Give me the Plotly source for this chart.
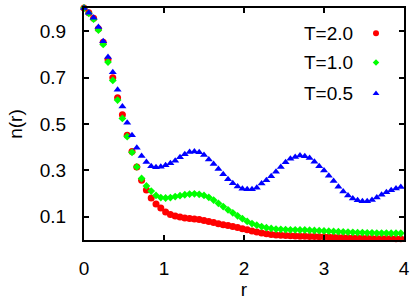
import plotly.graph_objects as go

r = [0.00, 0.06, 0.12, 0.18, 0.24, 0.30, 0.36, 0.42, 0.48, 0.54,
     0.60, 0.66, 0.72, 0.78, 0.84, 0.90, 0.96, 1.02, 1.08, 1.14,
     1.20, 1.26, 1.32, 1.38, 1.44, 1.50, 1.56, 1.62, 1.68, 1.74,
     1.80, 1.86, 1.92, 1.98, 2.04, 2.10, 2.16, 2.22, 2.28, 2.34,
     2.40, 2.46, 2.52, 2.58, 2.64, 2.70, 2.76, 2.82, 2.88, 2.94,
     3.00, 3.06, 3.12, 3.18, 3.24, 3.30, 3.36, 3.42, 3.48, 3.54,
     3.60, 3.66, 3.72, 3.78, 3.84, 3.90, 3.96]

n_T20 = [1.000, 0.980, 0.956, 0.911, 0.852, 0.778, 0.699, 0.613, 0.540, 0.451,
         0.381, 0.315, 0.258, 0.216, 0.181, 0.155, 0.138, 0.121, 0.110, 0.103,
         0.099, 0.095, 0.093, 0.090, 0.088, 0.084, 0.080, 0.075, 0.070, 0.066,
         0.062, 0.058, 0.054, 0.049, 0.044, 0.039, 0.034, 0.030, 0.027, 0.024,
         0.022, 0.021, 0.019, 0.018, 0.017, 0.016, 0.016, 0.015, 0.015, 0.014,
         0.014, 0.013, 0.012, 0.011, 0.011, 0.010, 0.009, 0.009, 0.008, 0.008,
         0.007, 0.007, 0.006, 0.006, 0.006, 0.005, 0.005]

n_T10 = [1.000, 0.977, 0.952, 0.905, 0.843, 0.767, 0.688, 0.603, 0.524, 0.446,
         0.378, 0.315, 0.265, 0.233, 0.211, 0.192, 0.183, 0.181, 0.183, 0.187,
         0.191, 0.195, 0.198, 0.199, 0.197, 0.192, 0.184, 0.172, 0.158, 0.144,
         0.130, 0.117, 0.104, 0.092, 0.080, 0.071, 0.064, 0.058, 0.053, 0.050,
         0.047, 0.046, 0.045, 0.044, 0.044, 0.043, 0.043, 0.042, 0.041, 0.040,
         0.039, 0.038, 0.037, 0.036, 0.035, 0.034, 0.033, 0.032, 0.032, 0.031,
         0.031, 0.030, 0.030, 0.030, 0.029, 0.029, 0.029]

n_T05 = [1.000, 0.980, 0.958, 0.918, 0.857, 0.789, 0.723, 0.648, 0.575, 0.505,
         0.452, 0.398, 0.362, 0.336, 0.318, 0.314, 0.316, 0.322, 0.331, 0.342,
         0.357, 0.370, 0.379, 0.382, 0.378, 0.366, 0.347, 0.328, 0.306, 0.283,
         0.262, 0.245, 0.231, 0.221, 0.219, 0.219, 0.225, 0.243, 0.258, 0.275,
         0.294, 0.315, 0.335, 0.350, 0.358, 0.364, 0.361, 0.353, 0.337, 0.318,
         0.300, 0.277, 0.254, 0.230, 0.209, 0.192, 0.179, 0.171, 0.167, 0.167,
         0.172, 0.183, 0.195, 0.206, 0.214, 0.222, 0.228]

labels = ["T=2.0", "T=1.0", "T=0.5"]
series = [n_T20, n_T10, n_T05]
colors = ["#ff0000", "#00ff00", "#0000ff"]
symbols = ["circle", "diamond", "triangle-up"]
sizes = [7, 6, 7]

x_ticks = [0, 1, 2, 3, 4]
y_ticks = [0.1, 0.3, 0.5, 0.7, 0.9]
y_ticklabels = ["0.1", "0.3", "0.5", "0.7", "0.9"]

# legend sample positions (paper coords of overlay axis)
leg_y = [0.891, 0.765, 0.631]

FONT = "Liberation Sans, Arial, Helvetica, sans-serif"

fig = go.Figure()
for lab, ys, c, s, sz in zip(labels, series, colors, symbols, sizes):
    fig.add_trace(go.Scatter(
        x=r, y=ys, mode="markers", name=lab,
        marker=dict(color=c, symbol=s, size=sz, line=dict(width=0)),
        showlegend=False, cliponaxis=False,
    ))

# legend samples on an overlay axis spanning the plot area
for lab, c, s, sz, ly in zip(labels, colors, symbols, sizes, leg_y):
    fig.add_trace(go.Scatter(
        x=[0.9125], y=[ly], mode="markers", xaxis="x2", yaxis="y2",
        marker=dict(color=c, symbol=s, size=sz - 1, line=dict(width=0)),
        showlegend=False, hoverinfo="skip",
    ))
    fig.add_annotation(
        x=0.847, y=ly, xref="paper", yref="paper", text=lab,
        showarrow=False, xanchor="right", yanchor="middle",
        font=dict(family=FONT, size=19, color="black"),
    )

axis_common = dict(
    showline=True, linecolor="black", linewidth=2, mirror="ticks",
    ticks="inside", ticklen=5, tickwidth=1.5, tickcolor="black",
    showgrid=False, zeroline=False,
    tickfont=dict(family=FONT, size=19, color="black"),
)

fig.update_layout(
    width=416, height=302,
    margin=dict(l=84, r=12, t=6, b=59),
    paper_bgcolor="white", plot_bgcolor="white",
    showlegend=False,
    xaxis=dict(range=[0, 4], tickvals=x_ticks, ticktext=[str(v) for v in x_ticks],
               title=dict(text="r", font=dict(family=FONT, size=19, color="black"), standoff=4),
               ticklabelstandoff=10, **axis_common),
    yaxis=dict(range=[0, 1], tickvals=y_ticks, ticktext=y_ticklabels,
               title=dict(text="n(r)", font=dict(family=FONT, size=19, color="black"), standoff=12),
               ticklabelstandoff=12, **axis_common),
    xaxis2=dict(range=[0, 1], overlaying="x", visible=False, fixedrange=True),
    yaxis2=dict(range=[0, 1], overlaying="y", visible=False, fixedrange=True),
)

fig.write_html("out.html", config={"displayModeBar": False},
               post_script="document.body.style.margin='0px';document.body.style.overflow='hidden';")
